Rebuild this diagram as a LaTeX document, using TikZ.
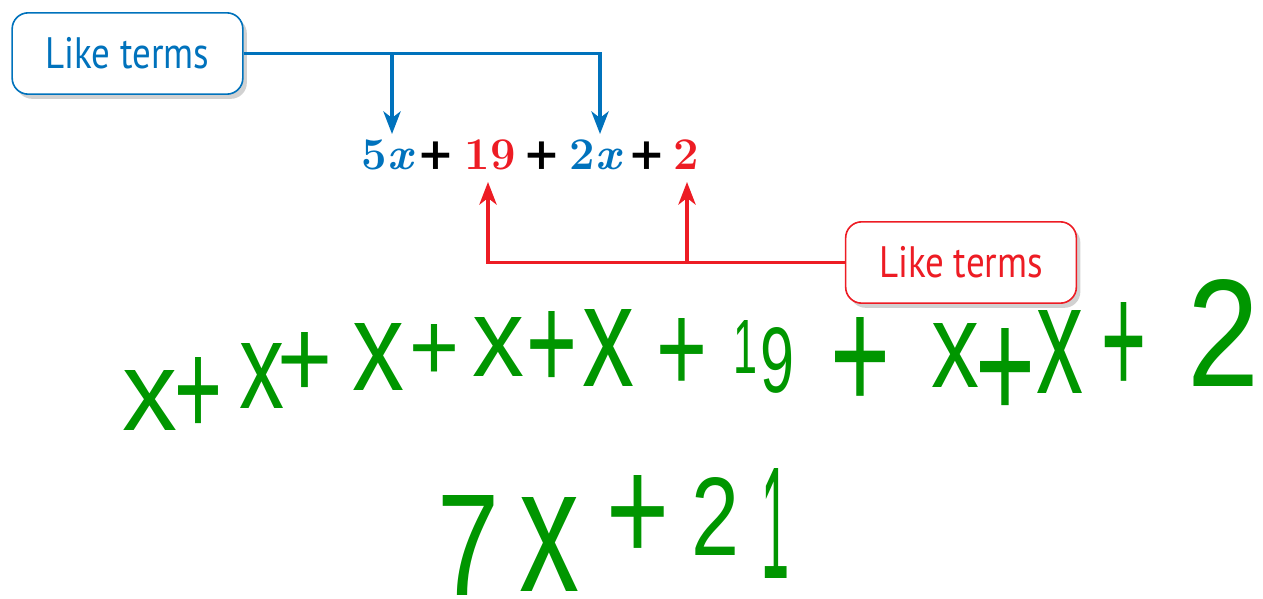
\documentclass[tikz,border=0pt]{standalone}
\usepackage{fontspec}
\usepackage{graphicx}
\usetikzlibrary{arrows.meta,shadows}
\newfontfamily\ltfont[FakeStretch=0.84]{PT Sans}
\newfontfamily\hwfont{Liberation Sans}
\newfontfamily\plusfont{DejaVu Serif}
\definecolor{lblue}{RGB}{0,114,188}
\definecolor{lred}{RGB}{237,28,36}
\definecolor{hgreen}{RGB}{0,150,0}
\newdimen\hwu \hwu=0.75pt
\newcommand{\hwc}[3]{\resizebox{#1\hwu}{#2\hwu}{\hwfont\fontsize{80}{80}\selectfont #3}}
\newcommand{\hwp}[2]{\resizebox{#1\hwu}{#2\hwu}{\hwfont\fontsize{80}{80}\selectfont +}}
\tikzset{
  likebox/.style={draw=#1, line width=1.2pt, fill=white, rounded corners=12pt,
    minimum width=173pt, minimum height=61pt, inner sep=0pt,
    text=#1, font=\ltfont\fontsize{33}{33}\selectfont,
    drop shadow={shadow xshift=3pt, shadow yshift=-3.5pt, opacity=0.3, fill=black!60}},
  eqtok/.style={text=#1, anchor=base, inner sep=0pt, font=\bfseries\fontsize{34}{34}\selectfont},
  eqplus/.style={text=black, anchor=base, inner sep=0pt, font=\plusfont\bfseries\fontsize{33}{33}\selectfont},
  conn/.style={draw=#1, line width=2.4pt, -{Stealth[length=17pt,width=13pt,inset=5pt]}},
  hw/.style={text=hgreen, inner sep=0pt},
}
\begin{document}
\begin{tikzpicture}[x=0.75pt,y=-0.75pt]
\useasboundingbox (0,0) rectangle (1263,599);
% boxes
\node[likebox=lblue] (lt1) at (127.5,53.5) {Like terms};
\node[likebox=lred] (lt2) at (961,262.5) {Like terms};
% equation
\node[eqtok=lblue] (t5x) at (387,170) {5\itshape x};
\node[eqplus] (p1) at (436,170) {+};
\node[eqtok=lred] (t19) at (490,170) {19};
\node[eqplus] (p2) at (542,170) {+};
\node[eqtok=lblue] (t2x) at (595,170) {2\itshape x};
\node[eqplus] (p3) at (647,170) {+};
\node[eqtok=lred] (t2) at (686,170) {2};
% connectors
\coordinate (b5) at (392,134);
\coordinate (b2) at (600,134);
\draw[conn=lblue] (lt1.east) -| (b2);
\draw[conn=lblue] (lt1.east -| b5) -- (b5);
\coordinate (r19) at (488,182);
\coordinate (r2) at (687,182);
\draw[conn=lred] (lt2.west) -| (r19);
\draw[conn=lred] (lt2.west -| r2) -- (r2);
% handwriting line 1
\node[hw] (h1) at (150,400) {\hwc{55}{60}{x}};
\node[hw] (h2) at (198,396) {\hwp{48}{78}};
\node[hw] (h3) at (262,376) {\hwc{45}{65}{x}};
\node[hw] (h4) at (305,364.5) {\hwp{55}{65}};
\node[hw] (h5) at (378,357) {\hwc{52}{67}{x}};
\node[hw] (h6) at (434,352.6) {\hwp{50}{56}};
\node[hw] (h7) at (498,347) {\hwc{52}{59}{x}};
\node[hw] (h8) at (552,350.8) {\hwp{51}{78}};
\node[hw] (h9) at (608,348) {\hwc{52}{77}{x}};
\node[hw] (h10) at (682,355.4) {\hwp{51}{74}};
\node[hw] (h11a) at (745,347) {\hwc{24}{53}{1}};
\node[hw] (h11b) at (777,360) {\hwc{34}{65}{9}};
\node[hw] (h12) at (860,364.3) {\hwp{60}{93}};
\node[hw] (h13) at (955,355) {\hwc{48}{64}{x}};
\node[hw] (h14) at (1005,374) {\hwp{60}{91}};
\node[hw] (h15) at (1060,352) {\hwc{47}{83}{x}};
\node[hw] (h16) at (1124,349.3) {\hwp{45}{93}};
\node[hw] (h17) at (1223,333) {\hwc{72}{107}{2}};
% handwriting line 2
\node[hw] (g1) at (468,545) {\hwc{62}{100}{7}};
\node[hw] (g2) at (549,544) {\hwc{60}{94}{x}};
\node[hw] (g3) at (638,518.6) {\hwp{63}{86}};
\node[hw] (g4) at (715,516) {\hwc{48}{78}{2}};
\node[hw] (g5) at (775,523) {\hwc{28}{110}{1}};
\end{tikzpicture}
\end{document}
